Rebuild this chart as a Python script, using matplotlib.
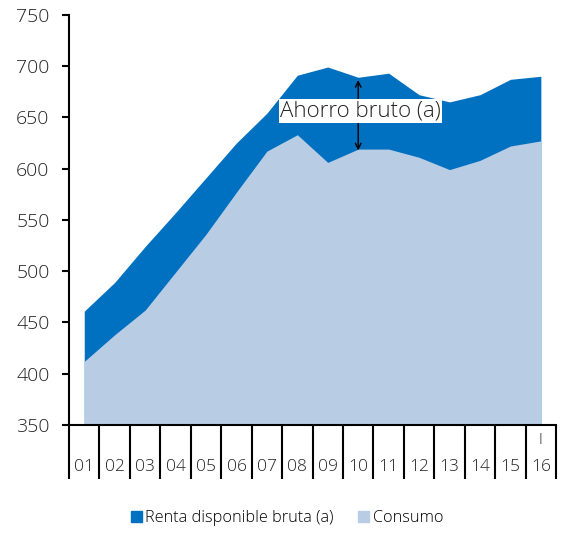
import matplotlib
matplotlib.use("Agg")
import matplotlib.pyplot as plt
from matplotlib.patches import Patch
import numpy as np

plt.rcParams['font.family'] = ['Open Sans', 'DejaVu Sans']
plt.rcParams['font.weight'] = 'light'

years = ['01', '02', '03', '04', '05', '06', '07', '08',
         '09', '10', '11', '12', '13', '14', '15', '16']
renta = [461, 489, 524, 557, 591, 625, 654, 691,
         699, 689, 693, 672, 665, 672, 687, 690]
consumo = [412, 438, 462, 499, 536, 577, 617, 633,
           606, 619, 619, 611, 599, 608, 622, 627]

dark = '#0070C0'
light = '#B8CCE4'
txt = '#222222'

fig = plt.figure(figsize=(5.68, 5.33), dpi=100)
ax = fig.add_axes([0.1215, 0.2026, 0.8575, 0.7698])

x = np.arange(len(years))
ax.fill_between(x, 350, renta, color=dark, lw=0)
ax.fill_between(x, 350, consumo, color=light, lw=0)

ax.set_xlim(-0.5, len(years) - 0.5)
ax.set_ylim(350, 750)
ax.set_yticks(range(350, 751, 50))
ax.tick_params(axis='y', length=5, width=1.5, pad=9, labelsize=14, colors='black',
               labelcolor=txt)

# category boxes below the axis
ax.set_xticks(np.arange(-0.5, len(years), 1))
ax.set_xticklabels([])
ax.tick_params(axis='x', length=39, width=1.5, direction='out')
for i, lab in enumerate(years):
    ax.annotate(lab, xy=(i, 0), xycoords=('data', 'axes fraction'),
                xytext=(0, -30.5), textcoords='offset points',
                ha='center', va='center', fontsize=12.5, color=txt)
ax.annotate('I', xy=(len(years) - 1, 0), xycoords=('data', 'axes fraction'),
            xytext=(0, -11), textcoords='offset points',
            ha='center', va='center', fontsize=11, color=txt)

for s in ['top', 'right']:
    ax.spines[s].set_visible(False)
ax.spines['left'].set_linewidth(1.5)
ax.spines['bottom'].set_linewidth(1.5)

# ahorro bruto arrow
ax.annotate('', xy=(9, renta[9]), xytext=(9, consumo[9] - 4),
            arrowprops=dict(arrowstyle='<->', color='black', lw=1))
ax.text(9.08, 656, 'Ahorro bruto (a)', ha='center', va='center', fontsize=16,
        color=txt, bbox=dict(facecolor='white', edgecolor='none', pad=1))

handles = [Patch(color=dark, label='Renta disponible bruta (a)'),
           Patch(color=light, label='Consumo')]
fig.legend(handles=handles, loc='center', bbox_to_anchor=(0.505, 0.028), ncol=2,
           frameon=False, fontsize=11.7, handlelength=0.7, handleheight=0.7,
           handletextpad=0.2, columnspacing=1.5)

fig.savefig('out.png', dpi=100)
